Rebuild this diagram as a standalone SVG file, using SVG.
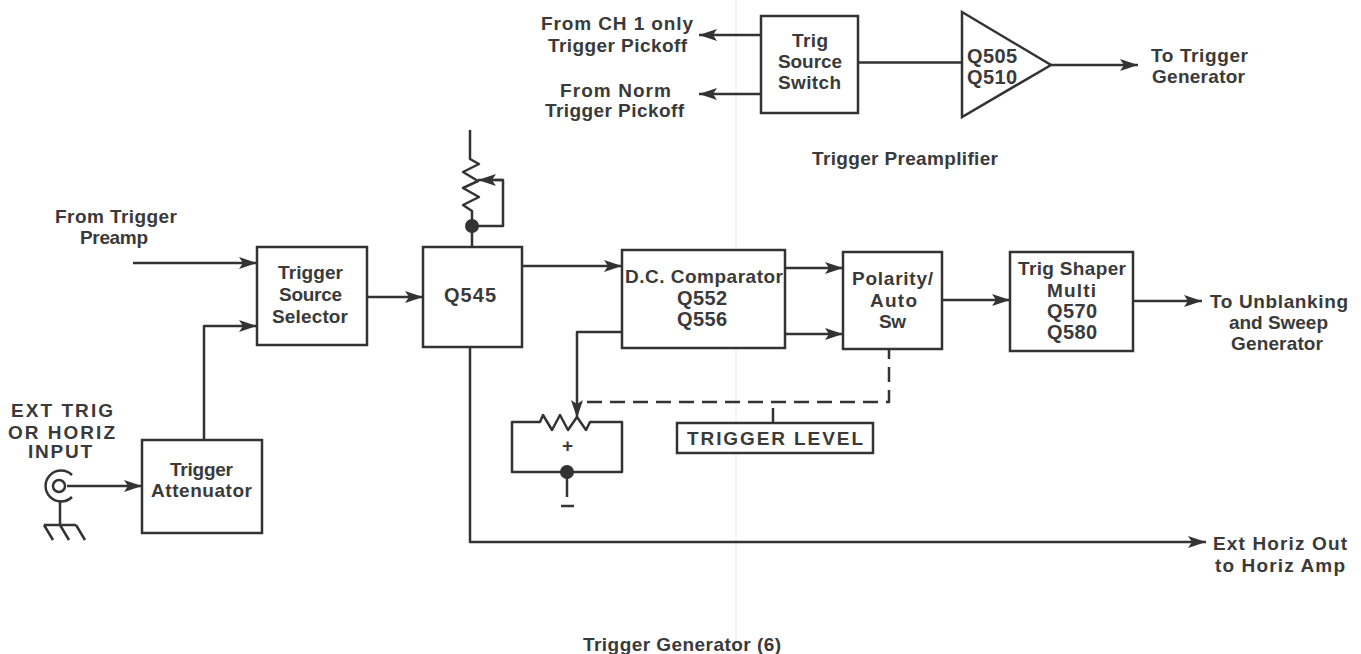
<svg xmlns="http://www.w3.org/2000/svg" width="1361" height="654" viewBox="0 0 1361 654">
<style>
.b{fill:#fff;stroke:#333;stroke-width:2.5}
.w{fill:none;stroke:#333;stroke-width:2.5;stroke-linejoin:round}
.a{marker-end:url(#ah)}
.d{stroke-dasharray:15 8}
.f{fill:#333}
text{font-family:"Liberation Sans",Arial,sans-serif;font-weight:bold;font-size:19px;fill:#3a3a3a}
.q{font-size:20px}
</style>
<defs>
<marker id="ah" markerUnits="userSpaceOnUse" markerWidth="20" markerHeight="14" refX="18" refY="7" orient="auto">
<path d="M0 1L18 7L0 13L4 7Z" fill="#333"/>
</marker>
</defs>
<rect width="1361" height="654" fill="#fff"/>
<line x1="736" y1="0" x2="736" y2="654" stroke="#f1f1f1" stroke-width="1.500"/>
<g id="connectors">
<path class="w a" d="M761 35H699"/>
<path class="w a" d="M761 94H699"/>
<path class="w" d="M858 62.500H962"/>
<path class="w a" d="M1051 65H1138"/>
<path class="w a" d="M133 263H257"/>
<path class="w a" d="M204 440V326H257"/>
<path class="w a" d="M367 297H423"/>
<path class="w a" d="M522 266H622"/>
<path class="w a" d="M785 268H843"/>
<path class="w a" d="M785 334H843"/>
<path class="w a" d="M942 300H1010"/>
<path class="w a" d="M1133 301H1202"/>
<path class="w a" d="M470 347V542H1206"/>
<path class="w a" d="M622 332H577V418"/>
<path class="w a" d="M67 486H142"/>
<path class="w" d="M472 248V226M470 130V159L479 164L463 172L478 181L463 188L479 197L463 205L472 211V226"/>
<path class="w" d="M472 226H503V180H495"/>
<path class="w a" d="M503 180H478"/>
<circle class="f" cx="472" cy="226" r="7"/>
<path class="w d" d="M587 402H889V350"/>
<path class="w" d="M773 408V423"/>
<path class="w" d="M540 422H512V472H622V422H590L586 430L577 417L568 430L560 415L552 430L543 415Z"/>
<circle class="f" cx="567" cy="472" r="7"/>
<path class="w" d="M567 472V497"/>
<path class="w" d="M561 506H574"/>
<path class="w" d="M60 500V525M44 525H76M44 525L53 540M60 525L69 540M76 525L85 540"/>
<path class="w" d="M72 475A15.500 15.500 0 1 0 72 497"/>
<circle class="w" cx="59" cy="486" r="6"/>
</g>
<g id="from-ch1"><text x="541" y="30" textLength="152">From CH 1 only</text><text x="548" y="51.500" textLength="139">Trigger Pickoff</text></g>
<g id="from-norm"><text x="560" y="96.500" textLength="111">From Norm</text><text x="545" y="117" textLength="139">Trigger Pickoff</text></g>
<g id="trig-source-switch"><rect class="b" x="761" y="16" width="97" height="97"/><text x="792" y="47" textLength="36">Trig</text><text x="778" y="68" textLength="64">Source</text><text x="778" y="89" textLength="63">Switch</text></g>
<g id="q505"><path class="b" d="M962 12L1051 65L962 117Z"/><text class="q" x="967" y="63" textLength="50">Q505</text><text class="q" x="967" y="84" textLength="50">Q510</text></g>
<g id="to-trigger-gen"><text x="1151" y="62" textLength="97">To Trigger</text><text x="1152" y="83" textLength="93">Generator</text></g>
<text id="preamp-title" x="812" y="165" textLength="186">Trigger Preamplifier</text>
<g id="from-trigger-preamp"><text x="55" y="223" textLength="122">From Trigger</text><text x="80" y="244" textLength="68">Preamp</text></g>
<g id="trigger-source-selector"><rect class="b" x="257" y="247" width="110" height="98"/><text x="278" y="279" textLength="65">Trigger</text><text x="279" y="301" textLength="63">Source</text><text x="272" y="323" textLength="76">Selector</text></g>
<g id="q545"><rect class="b" x="423" y="247" width="99" height="100"/><text class="q" x="444" y="302" textLength="52">Q545</text></g>
<g id="dc-comparator"><rect class="b" x="622" y="250" width="163" height="98"/><text x="625" y="283" textLength="158">D.C. Comparator</text><text class="q" x="677" y="305" textLength="50">Q552</text><text class="q" x="677" y="326" textLength="50">Q556</text></g>
<g id="polarity"><rect class="b" x="843" y="252" width="99" height="97"/><text x="852" y="285" textLength="81">Polarity/</text><text x="870" y="307" textLength="47">Auto</text><text x="879" y="328" textLength="27">Sw</text></g>
<g id="trig-shaper"><rect class="b" x="1010" y="252" width="123" height="99"/><text x="1018" y="275" textLength="108">Trig Shaper</text><text x="1047" y="297" textLength="49">Multi</text><text class="q" x="1047" y="318" textLength="50">Q570</text><text class="q" x="1047" y="339" textLength="50">Q580</text></g>
<g id="to-unblanking"><text x="1210" y="308" textLength="138">To Unblanking</text><text x="1229" y="329" textLength="99">and Sweep</text><text x="1231" y="350" textLength="92">Generator</text></g>
<g id="ext-label"><text x="11" y="417" textLength="102">EXT TRIG</text><text x="8" y="439" textLength="107">OR HORIZ</text><text x="28" y="458" textLength="64">INPUT</text></g>
<g id="trigger-attenuator"><rect class="b" x="142" y="440" width="120" height="93"/><text x="170" y="476" textLength="63">Trigger</text><text x="151" y="497" textLength="101">Attenuator</text></g>
<g id="trigger-level"><rect class="b" x="677" y="423" width="196" height="30"/><text x="687" y="445" textLength="176">TRIGGER LEVEL</text></g>
<text id="plus" x="562" y="452">+</text>
<g id="ext-horiz"><text x="1213" y="550" textLength="134">Ext Horiz Out</text><text x="1215" y="572" textLength="130">to Horiz Amp</text></g>
<text id="gen-title" x="583" y="651" textLength="198">Trigger Generator (6)</text>
</svg>
